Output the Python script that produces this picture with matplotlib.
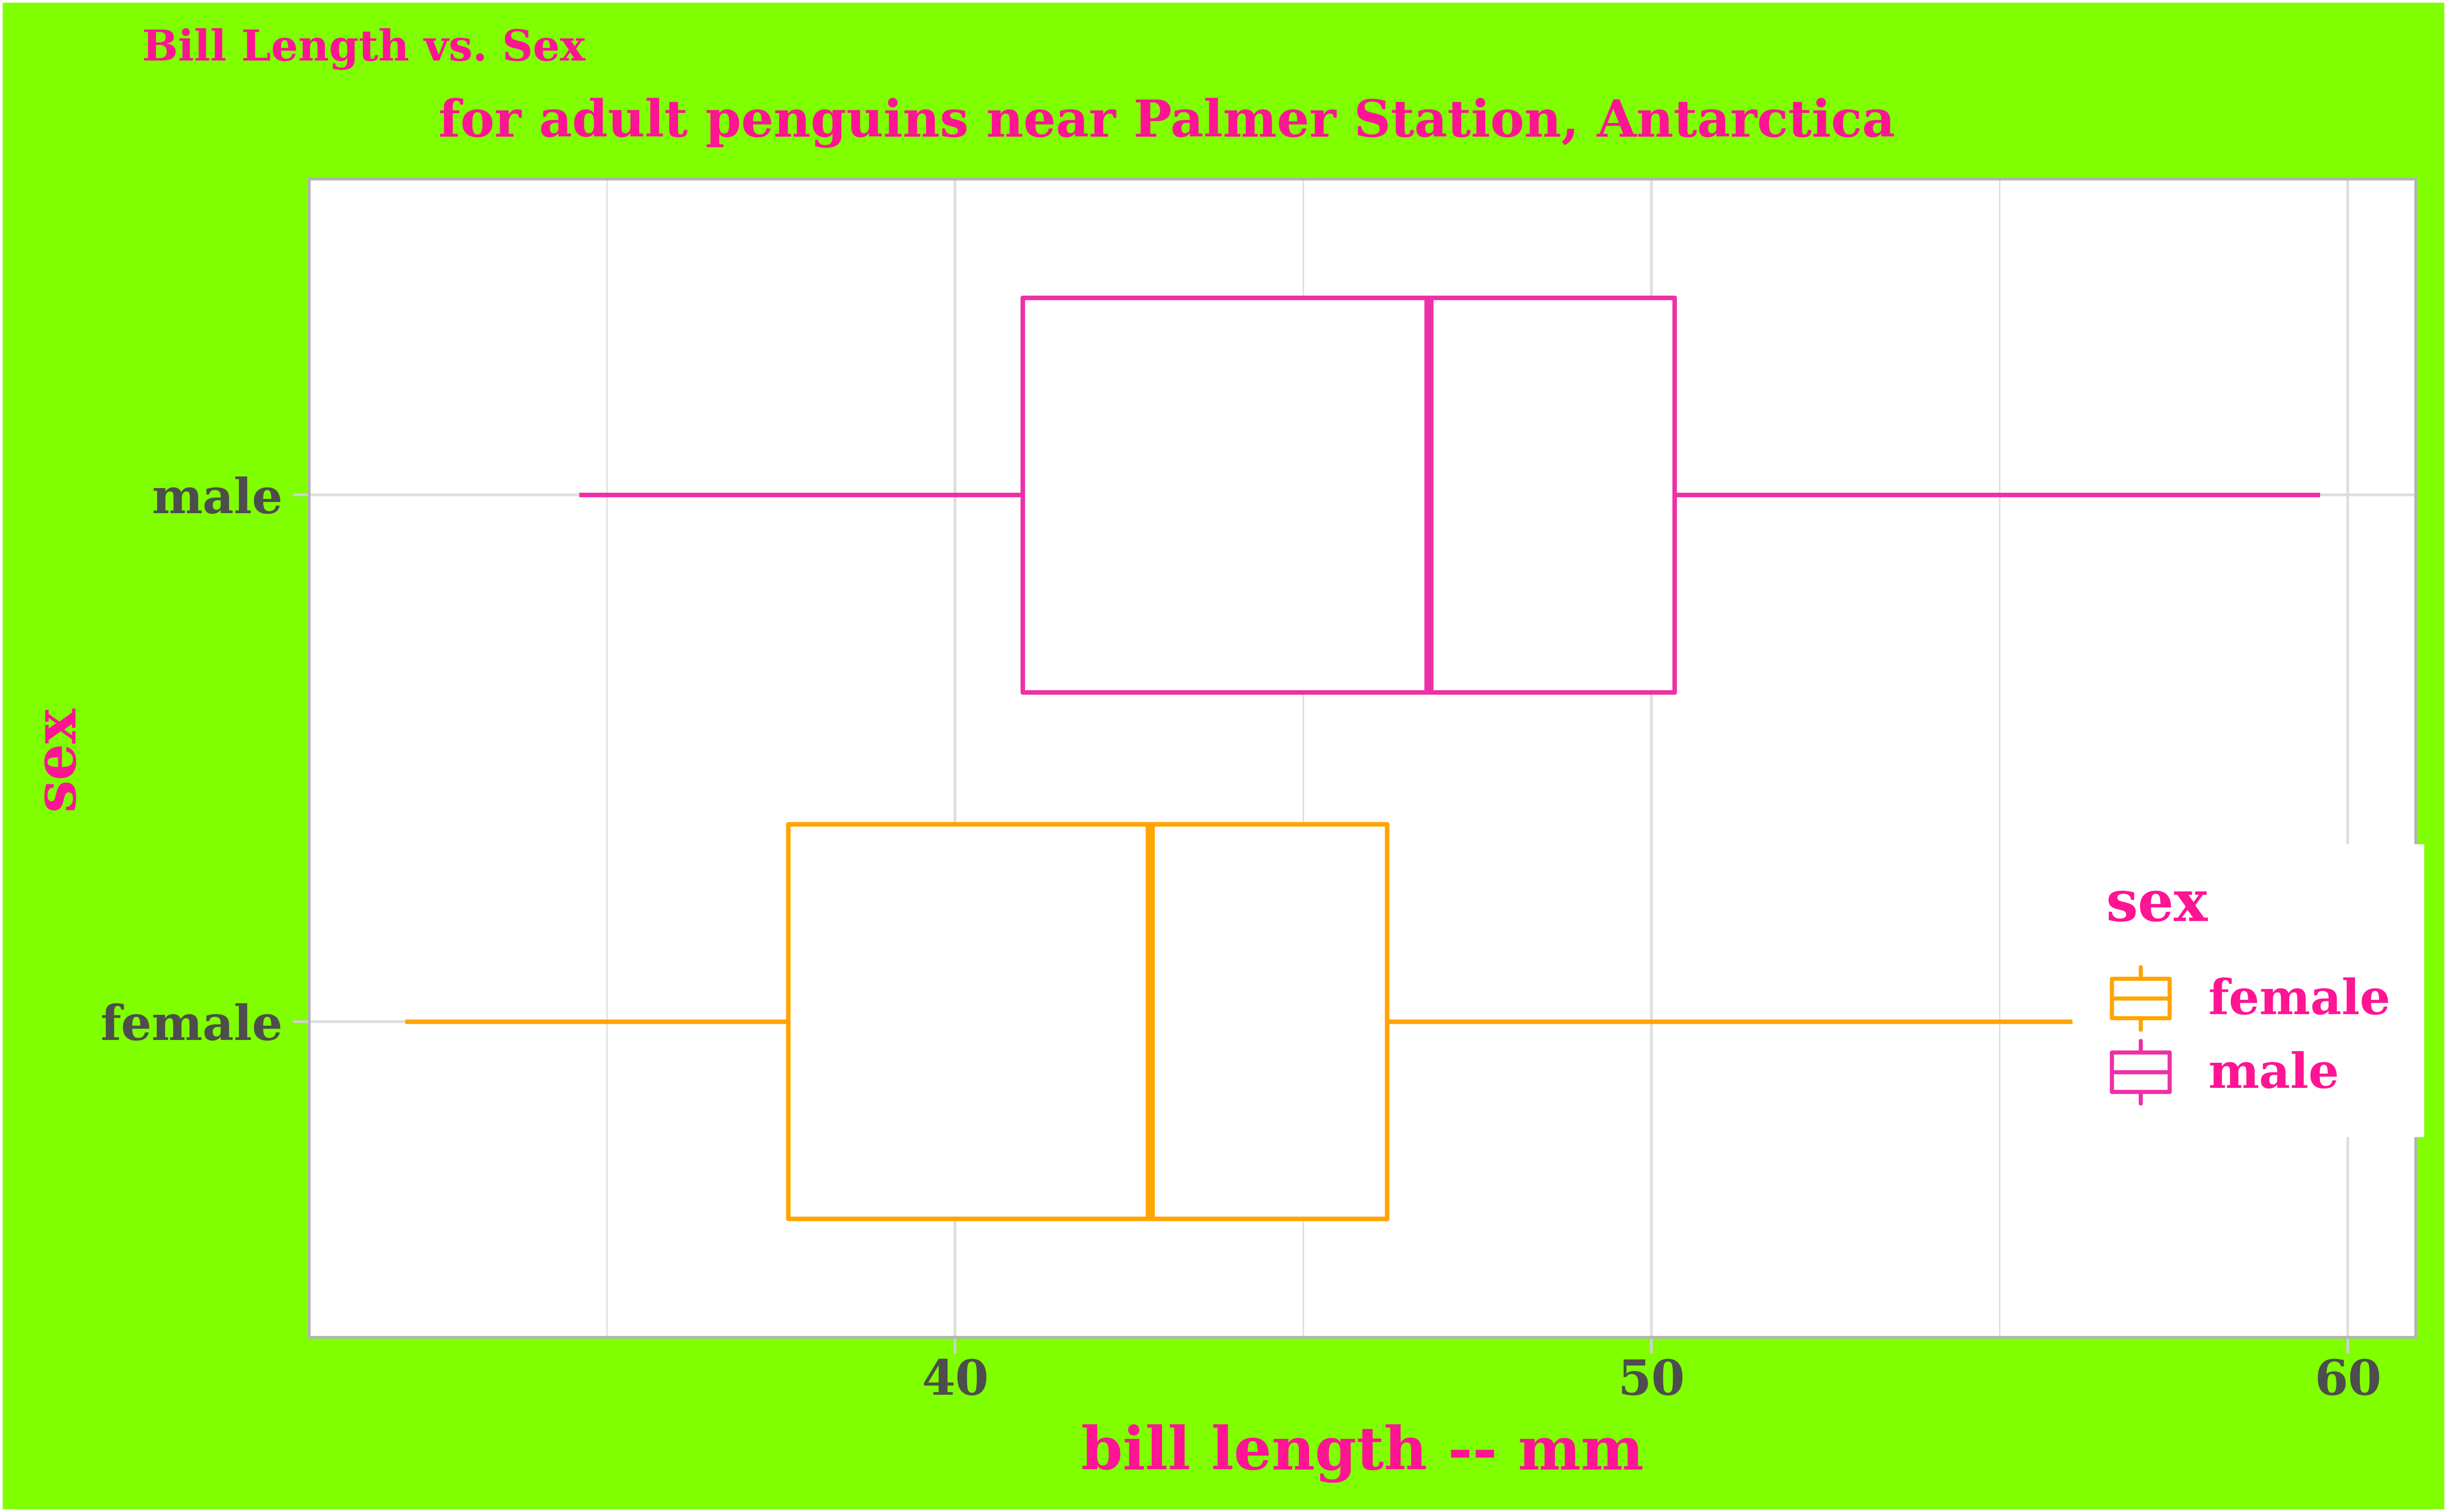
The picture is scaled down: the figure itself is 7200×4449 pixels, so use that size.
import matplotlib
matplotlib.use('Agg')
import matplotlib.pyplot as plt
from matplotlib.legend_handler import HandlerBase
from matplotlib.patches import Rectangle, Patch
from matplotlib.lines import Line2D
import numpy as np

# ---------------- data ----------------
categories = ['female', 'male']
whisker_low = [32.1, 34.6]
q1 = [37.6, 40.97]
median = [42.8, 46.8]
q3 = [46.2, 50.33]
whisker_high = [56.1, 59.6]
x_ticks = [40, 50, 60]
x_minor = [35, 45, 55]
colors = ['#FFA500', '#EE30A7']

title = 'Bill Length vs. Sex'
subtitle = 'for adult penguins near Palmer Station, Antarctica'
xlabel = 'bill length -- mm'
ylabel = 'sex'
legend_title = 'sex'

# ---------------- style ----------------
plt.rcParams['font.family'] = ['DejaVu Serif']
plt.rcParams['font.weight'] = 'bold'
plt.rcParams['axes.labelweight'] = 'bold'
PINK = '#FF1493'
GREEN = '#7FFF00'
GRID = '#DEDEDE'
BORDER = '#B3B3B3'
TICKC = '#D0D0D0'
TICKLAB = '#4D4D4D'

W, H = 7200, 4449
DPI = 600


def fx(px):
    return px / W


def fy(py):
    return 1 - py / H


def pt(px):
    return px * 72.0 / DPI


fig = plt.figure(figsize=(W / DPI, H / DPI), dpi=DPI)
fig.patch.set_facecolor(GREEN)
fig.patch.set_edgecolor('white')
fig.patch.set_linewidth(pt(16))

ax = fig.add_axes([fx(910), fy(3935), fx(7108) - fx(910), fy(527) - fy(3935)])
ax.set_facecolor('white')

positions = np.arange(1, len(categories) + 1)
for i, cat in enumerate(categories):
    st = dict(label=cat, whislo=whisker_low[i], q1=q1[i], med=median[i],
              q3=q3[i], whishi=whisker_high[i], fliers=[])
    kw = dict(positions=[positions[i]], widths=0.75, patch_artist=True,
              showcaps=False, showfliers=False, manage_ticks=False,
              boxprops=dict(facecolor='white', edgecolor=colors[i],
                            linewidth=pt(13.3), joinstyle='round'),
              medianprops=dict(color=colors[i], linewidth=pt(26.7),
                               solid_capstyle='butt'),
              whiskerprops=dict(color=colors[i], linewidth=pt(13.3),
                                solid_capstyle='butt'),
              zorder=3)
    try:
        ax.bxp([st], orientation='horizontal', **kw)
    except TypeError:
        ax.bxp([st], vert=False, **kw)

lo = min(whisker_low)
hi = max(whisker_high)
span = hi - lo
ax.set_xlim(lo - 0.05 * span, hi + 0.05 * span)
ax.set_ylim(0.4, len(categories) + 0.6)

ax.set_xticks(x_ticks)
ax.set_xticks(x_minor, minor=True)
ax.set_yticks(positions)
ax.set_yticklabels(categories)

ax.set_axisbelow(True)
ax.grid(which='major', color=GRID, linewidth=pt(8))
ax.grid(which='minor', axis='x', color=GRID, linewidth=pt(4))
ax.tick_params(which='minor', length=0)
ax.tick_params(which='major', length=5.8, width=pt(8), color=TICKC,
               labelcolor=TICKLAB, labelsize=17)
ax.tick_params(axis='x', which='major', pad=1.5)
ax.tick_params(axis='y', which='major', pad=3.6)
for sp in ax.spines.values():
    sp.set_color(BORDER)
    sp.set_linewidth(pt(8))

# axis titles
ax.set_xlabel(xlabel, fontsize=21, color=PINK, fontweight='bold')
ax.xaxis.set_label_coords(0.5, -(4324 - 3935) / (3935 - 527))
ax.xaxis.label.set_va('baseline')
ax.set_ylabel(ylabel, fontsize=20.5, color=PINK, fontweight='bold')
ax.yaxis.set_label_coords((168 - 910) / (7108 - 910), 0.5)
ax.yaxis.label.set_va('center')
ax.yaxis.label.set_ha('center')

# titles
fig.text(fx(418), fy(178), title, fontsize=15, color=PINK, ha='left',
         va='baseline', fontweight='bold')
fig.text(fx(1290), fy(402), subtitle, fontsize=18, color=PINK, ha='left',
         va='baseline', fontweight='bold')

# legend
KEY_OFF = 17  # px indent of the key glyph relative to the legend title


class BoxKey(HandlerBase):
    # DrawingArea coordinates are in points
    def create_artists(self, legend, orig_handle, xdescent, ydescent, width,
                       height, fontsize, trans):
        c = orig_handle.get_edgecolor()
        off = pt(KEY_OFF)
        x0, y0 = -xdescent + off, -ydescent
        w = width - off
        wf = 0.185
        lw = pt(12)
        rect = Rectangle((x0, y0 + wf * height), w, (1 - 2 * wf) * height,
                         facecolor='white', edgecolor=c, linewidth=lw,
                         joinstyle='round', transform=trans)
        med = Line2D([x0, x0 + w], [y0 + height / 2] * 2, color=c, lw=lw,
                     solid_capstyle='butt', transform=trans)
        w1 = Line2D([x0 + w / 2] * 2, [y0, y0 + wf * height], color=c,
                    lw=lw, solid_capstyle='round', transform=trans)
        w2 = Line2D([x0 + w / 2] * 2, [y0 + (1 - wf) * height, y0 + height],
                    color=c, lw=lw, solid_capstyle='round', transform=trans)
        return [rect, med, w1, w2]


handles = [Patch(edgecolor=colors[i], facecolor='white', label=categories[i])
           for i in range(len(categories))]
LFS = 17
lfs_px = LFS * DPI / 72
# matplotlib reduces handle height by a descent heuristic; solve for 184 px
target_h = pt(184)
hh = (target_h - 0.35 * LFS * 0.7) / (LFS - 0.35 * LFS)
leg = fig.legend(handles=handles, labels=categories, title=legend_title,
                 loc='upper right', bbox_to_anchor=(fx(7133), fy(2484)),
                 bbox_transform=fig.transFigure, fontsize=LFS,
                 title_fontsize=20, handler_map={Patch: BoxKey()},
                 handlelength=(170 + KEY_OFF) / lfs_px, handleheight=hh,
                 handletextpad=0.8, labelspacing=0.23, borderpad=0.7,
                 borderaxespad=0, frameon=True, fancybox=False,
                 alignment='left')
leg._legend_box.sep = pt(101)
leg.get_frame().set_facecolor('white')
leg.get_frame().set_edgecolor('none')
leg.get_frame().set_alpha(1)
leg.get_title().set_color(PINK)
leg.get_title().set_fontweight('bold')
for t in leg.get_texts():
    t.set_color(PINK)

fig.savefig('out.png', dpi=DPI, facecolor=fig.get_facecolor(),
            edgecolor=fig.get_edgecolor())
